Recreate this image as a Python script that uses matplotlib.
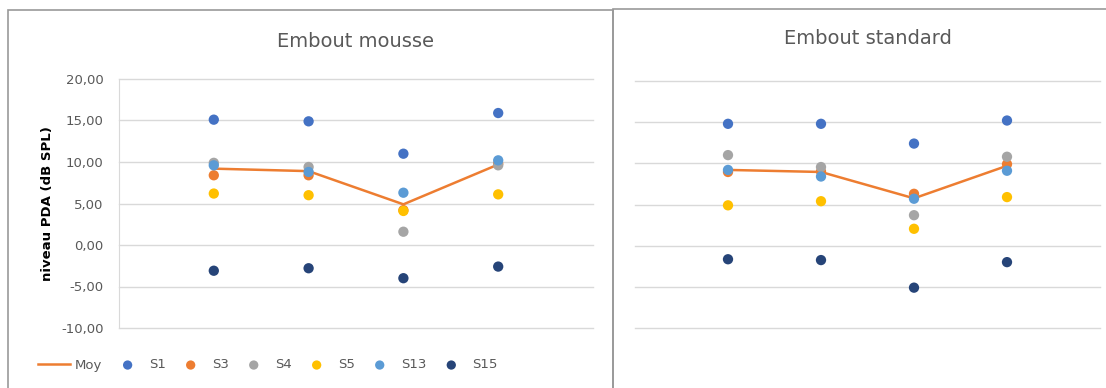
import matplotlib.pyplot as plt
from matplotlib.patches import Rectangle

cats = [1, 2, 3, 4]
series = ['S1', 'S3', 'S4', 'S5', 'S13', 'S15']
colors = ['#4472C4', '#ED7D31', '#A5A5A5', '#FFC000', '#5B9BD5', '#264478']

# Embout mousse
mousse = {
    'S1': [15.1, 14.9, 11.0, 15.9],
    'S3': [8.4, 8.4, 4.2, 9.8],
    'S4': [9.9, 9.4, 1.6, 9.6],
    'S5': [6.2, 6.0, 4.1, 6.1],
    'S13': [9.6, 8.8, 6.3, 10.2],
    'S15': [-3.1, -2.8, -4.0, -2.6],
}
moy_mousse = [9.2, 8.9, 4.9, 9.7]

# Embout standard
standard = {
    'S1': [14.8, 14.8, 12.4, 15.2],
    'S3': [8.95, 9.0, 6.3, 9.9],
    'S4': [11.0, 9.55, 3.7, 10.8],
    'S5': [4.9, 5.4, 2.05, 5.9],
    'S13': [9.2, 8.4, 5.7, 9.1],
    'S15': [-1.65, -1.75, -5.1, -2.0],
}
moy_standard = [9.2, 8.95, 5.75, 9.7]

yticks = [-10, -5, 0, 5, 10, 15, 20]
ytick_labels = ['-10,00', '-5,00', '0,00', '5,00', '10,00', '15,00', '20,00']

W, H = 1106, 388
fig = plt.figure(figsize=(W / 100, H / 100), dpi=100)

# panel frames
fig.patches.append(Rectangle((8 / W, -0.1), (613 - 8) / W, 1.1 - 10 / H,
                             transform=fig.transFigure, fill=False,
                             edgecolor='#999999', lw=1.2))
fig.patches.append(Rectangle((613 / W, -0.1), (W + 5 - 613) / W, 1.1 - 9 / H,
                             transform=fig.transFigure, fill=False,
                             edgecolor='#999999', lw=1.2))

ax1 = fig.add_axes([119 / W, 1 - 328 / H, 474 / W, 249 / H])
ax2 = fig.add_axes([635 / W, 1 - 328 / H, 465 / W, 247 / H])


def draw(ax, data, moy, title, pad):
    ax.plot(cats, moy, color='#ED7D31', lw=1.8, zorder=2, label='Moy')
    for s, c in zip(series, colors):
        ax.scatter(cats, data[s], s=55, color=c, zorder=3, label=s,
                   edgecolors='none')
    ax.set_xlim(0, 5)
    ax.set_ylim(-10, 20)
    ax.set_yticks(yticks)
    ax.grid(axis='y', color='#D9D9D9', lw=1)
    for g in ax.get_ygridlines():
        g.set_clip_on(False)
    ax.set_axisbelow(True)
    ax.set_xticks([])
    for sp in ax.spines.values():
        sp.set_visible(False)
    ax.tick_params(axis='y', length=0, pad=11, labelsize=9.5, labelcolor='#595959')
    ax.set_title(title, fontsize=14, color='#595959', pad=pad)


draw(ax1, mousse, moy_mousse, 'Embout mousse', 23)
draw(ax2, standard, moy_standard, 'Embout standard', 27)

ax1.set_yticklabels(ytick_labels)
ax1.spines['left'].set_visible(True)
ax1.spines['left'].set_color('#D9D9D9')
ax1.set_ylabel('niveau PDA (dB SPL)', fontsize=9.5, fontweight='bold', labelpad=5)
ax2.set_yticklabels([])

h, l = ax1.get_legend_handles_labels()
fig.legend(h, l, loc='center', bbox_to_anchor=(268 / W, 1 - 365 / H), ncol=7,
           frameon=False, fontsize=9.5, labelcolor='#595959', handlelength=2.4,
           columnspacing=0.7, handletextpad=0.4, markerscale=0.9)

fig.savefig('out.png', dpi=100)
